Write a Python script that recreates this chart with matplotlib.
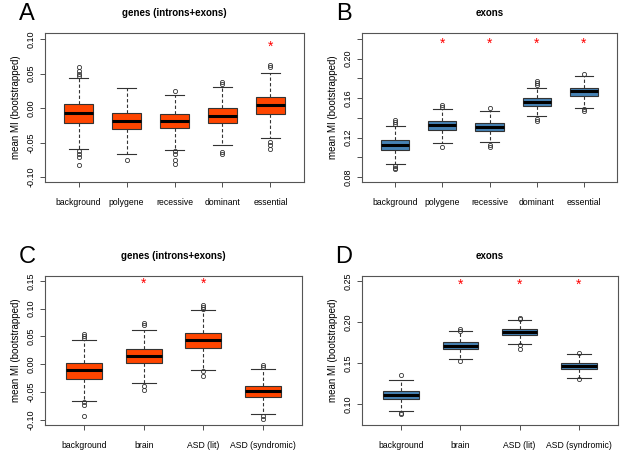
import matplotlib
matplotlib.use("Agg")
import matplotlib.pyplot as plt
import numpy as np

plt.rcParams['font.family'] = ['Liberation Sans', 'DejaVu Sans']

ORANGE = "#FF4500"
BLUE = "#4682B4"

# panel A: genes (introns+exons), gene sets
A_cats = ["background", "polygene", "recessive", "dominant", "essential"]
A_med = [-0.0067, -0.019, -0.019, -0.0115, 0.004]
A_q1 = [-0.021, -0.030, -0.029, -0.022, -0.009]
A_q3 = [0.0058, -0.0067, -0.009, 0.0, 0.016]
A_lo = [-0.059, -0.066, -0.061, -0.053, -0.043]
A_hi = [0.043, 0.029, 0.019, 0.031, 0.051]
A_fliers = [[0.059, 0.054, 0.050, 0.047, -0.063, -0.067, -0.071, -0.083],
            [-0.075],
            [0.025, -0.063, -0.067, -0.075, -0.081],
            [0.0375, 0.035, -0.064, -0.067],
            [0.063, 0.059, -0.049, -0.053, -0.059]]
A_star = [False, False, False, False, True]

# panel B: exons, gene sets
B_cats = ["background", "polygene", "recessive", "dominant", "essential"]
B_med = [0.113, 0.1327, 0.1307, 0.156, 0.167]
B_q1 = [0.1076, 0.1277, 0.1264, 0.152, 0.1622]
B_q3 = [0.1177, 0.137, 0.135, 0.160, 0.1706]
B_lo = [0.0936, 0.1143, 0.1156, 0.1414, 0.150]
B_hi = [0.1317, 0.1485, 0.1468, 0.1706, 0.182]
B_fliers = [[0.1374, 0.136, 0.134, 0.0916, 0.0895, 0.0882],
            [0.1535, 0.151, 0.1106],
            [0.150, 0.1123, 0.1106],
            [0.1777, 0.175, 0.173, 0.139, 0.1367],
            [0.1843, 0.1485, 0.1468]]
B_star = [False, True, True, True, True]

# panel C: genes (introns+exons), brain / ASD sets
C_cats = ["background", "brain", "ASD (lit)", "ASD (syndromic)"]
C_med = [-0.010, 0.0156, 0.043, -0.0487]
C_q1 = [-0.026, 0.0018, 0.030, -0.060]
C_q3 = [0.0024, 0.027, 0.057, -0.039]
C_lo = [-0.067, -0.034, -0.010, -0.090]
C_hi = [0.043, 0.062, 0.097, -0.0078]
C_fliers = [[0.055, 0.051, 0.0475, -0.069, -0.073, -0.093],
            [0.0745, 0.0715, -0.0397, -0.046],
            [0.1064, 0.1034, 0.100, -0.012, -0.021],
            [-0.0006, -0.0048, -0.093, -0.099]]
C_star = [False, True, True, False]

# panel D: exons, brain / ASD sets
D_cats = ["background", "brain", "ASD (lit)", "ASD (syndromic)"]
D_med = [0.1106, 0.171, 0.1874, 0.146]
D_q1 = [0.1057, 0.1667, 0.1837, 0.1423]
D_q3 = [0.1159, 0.1756, 0.191, 0.150]
D_lo = [0.0919, 0.1549, 0.1728, 0.132]
D_hi = [0.1297, 0.1886, 0.2028, 0.1614]
D_fliers = [[0.1358, 0.0894, 0.0874],
            [0.191, 0.1894, 0.1528],
            [0.2053, 0.204, 0.1715, 0.167],
            [0.162, 0.131]]
D_star = [False, True, True, True]


def panel(ax, cats, med, q1, q3, lo, hi, fliers, star, color, title, letter,
          ylim, yticks, ylabels, star_y):
    stats = []
    for i in range(len(cats)):
        stats.append(dict(med=med[i], q1=q1[i], q3=q3[i], whislo=lo[i],
                          whishi=hi[i], fliers=fliers[i], label=cats[i]))
    pos = np.arange(1, len(cats) + 1)
    ax.bxp(stats, positions=pos, widths=0.6, patch_artist=True,
           boxprops=dict(facecolor=color, edgecolor="#333333", linewidth=0.8),
           medianprops=dict(color="black", linewidth=2.2),
           whiskerprops=dict(color="#333333", linewidth=0.8, linestyle=(0, (3, 2))),
           capprops=dict(color="#333333", linewidth=0.8),
           flierprops=dict(marker="o", markersize=3.0, markerfacecolor="none",
                           markeredgecolor="#333333", markeredgewidth=0.6),
           capwidths=0.4)
    for p, s in zip(pos, star):
        if s:
            ax.text(p, star_y, "*", color="red", ha="center", va="center",
                    fontsize=10)
    n = len(cats)
    ax.set_xlim(0.5 - 0.04 * n, n + 0.5 + 0.04 * n)
    ax.set_ylim(*ylim)
    ax.set_yticks(yticks)
    ax.set_yticklabels(ylabels, rotation=90, va="center", fontsize=6.5)
    ax.set_xticks(pos)
    ax.set_xticklabels(cats, fontsize=6.2)
    ax.tick_params(axis="both", length=3.5, width=0.6, color="#333333")
    ax.tick_params(axis="x", pad=8)
    ax.tick_params(axis="y", pad=3)
    for sp in ax.spines.values():
        sp.set_linewidth(0.8)
        sp.set_color("#555555")
    ax.set_ylabel("mean MI (bootstrapped)", fontsize=7, labelpad=4)
    ax.set_title(title, fontsize=7, fontweight="bold", pad=12)
    ax.text(-0.07, 1.125, letter, transform=ax.transAxes, fontsize=17,
            ha="center", va="center")


fig = plt.figure(figsize=(6.24, 4.53), dpi=100)
W, H = 624, 453
axA = fig.add_axes([45 / W, 1 - 182 / H, 259 / W, 149 / H])
axB = fig.add_axes([362 / W, 1 - 182 / H, 255 / W, 149 / H])
axC = fig.add_axes([45 / W, 1 - 425 / H, 257 / W, 149 / H])
axD = fig.add_axes([362 / W, 1 - 425 / H, 256 / W, 149 / H])

panel(axA, A_cats, A_med, A_q1, A_q3, A_lo, A_hi, A_fliers, A_star, ORANGE,
      "genes (introns+exons)", "A", (-0.1072, 0.1087),
      [-0.10, -0.05, 0.0, 0.05, 0.10],
      ["-0.10", "-0.05", "0.00", "0.05", "0.10"], 0.089)
panel(axB, B_cats, B_med, B_q1, B_q3, B_lo, B_hi, B_fliers, B_star, BLUE,
      "exons", "B", (0.075, 0.226),
      [0.08, 0.10, 0.12, 0.14, 0.16, 0.18, 0.20, 0.22],
      ["0.08", "", "0.12", "", "0.16", "", "0.20", ""], 0.215)
panel(axC, C_cats, C_med, C_q1, C_q3, C_lo, C_hi, C_fliers, C_star, ORANGE,
      "genes (introns+exons)", "C", (-0.1096, 0.159),
      [-0.10, -0.05, 0.0, 0.05, 0.10, 0.15],
      ["-0.10", "-0.05", "0.00", "0.05", "0.10", "0.15"], 0.1446)
panel(axD, D_cats, D_med, D_q1, D_q3, D_lo, D_hi, D_fliers, D_star, BLUE,
      "exons", "D", (0.0744, 0.256),
      [0.10, 0.15, 0.20, 0.25],
      ["0.10", "0.15", "0.20", "0.25"], 0.245)

fig.savefig("out.png", dpi=100)
